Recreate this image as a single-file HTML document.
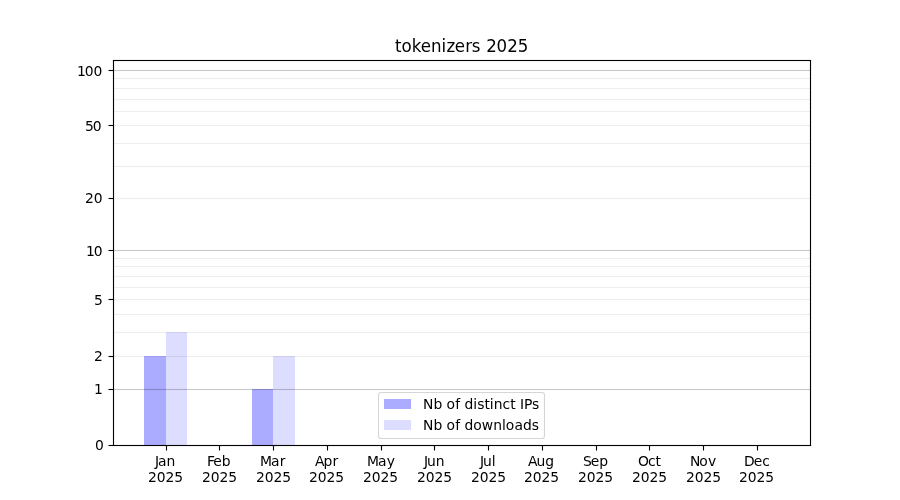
<!DOCTYPE html>
<html lang="en">
<head>
<meta charset="utf-8">
<title>tokenizers 2025</title>
<style>
html,body{margin:0;padding:0;background:#fff;}
body{width:900px;height:500px;overflow:hidden;}
svg{display:block;}
text{font-family:"DejaVu Sans","Liberation Sans",sans-serif;fill:#000;}
.t{font-size:13.889px;}
.ti{font-size:16.667px;}
</style>
</head>
<body>
<svg width="900" height="500" viewBox="0 0 900 500">
<rect x="0" y="0" width="900" height="500" fill="#fff"/>
<g id="bars">
<rect x="144" y="356" width="22" height="89" fill="#0000ff" fill-opacity="0.33"/>
<rect x="166" y="332" width="21" height="113" fill="#0000ff" fill-opacity="0.133"/>
<rect x="252" y="389" width="21" height="56" fill="#0000ff" fill-opacity="0.33"/>
<rect x="273" y="356" width="22" height="89" fill="#0000ff" fill-opacity="0.133"/>
</g>
<g id="grid">
<rect x="114" y="77" width="696" height="3" fill="#000" fill-opacity="0.005"/>
<rect x="114" y="78" width="696" height="1" fill="#000" fill-opacity="0.062"/>
<rect x="114" y="87" width="696" height="3" fill="#000" fill-opacity="0.005"/>
<rect x="114" y="88" width="696" height="1" fill="#000" fill-opacity="0.062"/>
<rect x="114" y="98" width="696" height="3" fill="#000" fill-opacity="0.005"/>
<rect x="114" y="99" width="696" height="1" fill="#000" fill-opacity="0.062"/>
<rect x="114" y="110" width="696" height="3" fill="#000" fill-opacity="0.005"/>
<rect x="114" y="111" width="696" height="1" fill="#000" fill-opacity="0.062"/>
<rect x="114" y="124" width="696" height="3" fill="#000" fill-opacity="0.005"/>
<rect x="114" y="125" width="696" height="1" fill="#000" fill-opacity="0.062"/>
<rect x="114" y="142" width="696" height="3" fill="#000" fill-opacity="0.005"/>
<rect x="114" y="143" width="696" height="1" fill="#000" fill-opacity="0.062"/>
<rect x="114" y="165" width="696" height="3" fill="#000" fill-opacity="0.005"/>
<rect x="114" y="166" width="696" height="1" fill="#000" fill-opacity="0.062"/>
<rect x="114" y="197" width="696" height="3" fill="#000" fill-opacity="0.005"/>
<rect x="114" y="198" width="696" height="1" fill="#000" fill-opacity="0.062"/>
<rect x="114" y="257" width="696" height="3" fill="#000" fill-opacity="0.005"/>
<rect x="114" y="258" width="696" height="1" fill="#000" fill-opacity="0.062"/>
<rect x="114" y="265" width="696" height="3" fill="#000" fill-opacity="0.005"/>
<rect x="114" y="266" width="696" height="1" fill="#000" fill-opacity="0.062"/>
<rect x="114" y="275" width="696" height="3" fill="#000" fill-opacity="0.005"/>
<rect x="114" y="276" width="696" height="1" fill="#000" fill-opacity="0.062"/>
<rect x="114" y="286" width="696" height="3" fill="#000" fill-opacity="0.005"/>
<rect x="114" y="287" width="696" height="1" fill="#000" fill-opacity="0.062"/>
<rect x="114" y="298" width="696" height="3" fill="#000" fill-opacity="0.005"/>
<rect x="114" y="299" width="696" height="1" fill="#000" fill-opacity="0.062"/>
<rect x="114" y="313" width="696" height="3" fill="#000" fill-opacity="0.005"/>
<rect x="114" y="314" width="696" height="1" fill="#000" fill-opacity="0.062"/>
<rect x="114" y="331" width="696" height="3" fill="#000" fill-opacity="0.005"/>
<rect x="114" y="332" width="696" height="1" fill="#000" fill-opacity="0.062"/>
<rect x="114" y="355" width="696" height="3" fill="#000" fill-opacity="0.005"/>
<rect x="114" y="356" width="696" height="1" fill="#000" fill-opacity="0.062"/>
<rect x="114" y="69" width="696" height="3" fill="#000" fill-opacity="0.011"/>
<rect x="114" y="70" width="696" height="1" fill="#000" fill-opacity="0.2"/>
<rect x="114" y="249" width="696" height="3" fill="#000" fill-opacity="0.011"/>
<rect x="114" y="250" width="696" height="1" fill="#000" fill-opacity="0.2"/>
<rect x="114" y="388" width="696" height="3" fill="#000" fill-opacity="0.011"/>
<rect x="114" y="389" width="696" height="1" fill="#000" fill-opacity="0.2"/>
</g>
<g id="spines">
<rect x="113" y="59" width="698" height="3" fill="#000" fill-opacity="0.055"/>
<rect x="112" y="60" width="700" height="1" fill="#000" fill-opacity="0.11"/>
<rect x="113" y="60" width="698" height="1" fill="#000"/>
<rect x="113" y="444" width="698" height="3" fill="#000" fill-opacity="0.055"/>
<rect x="112" y="445" width="700" height="1" fill="#000" fill-opacity="0.11"/>
<rect x="113" y="445" width="698" height="1" fill="#000"/>
<rect x="112" y="60" width="3" height="386" fill="#000" fill-opacity="0.055"/>
<rect x="113" y="60" width="1" height="386" fill="#000"/>
<rect x="809" y="60" width="3" height="386" fill="#000" fill-opacity="0.055"/>
<rect x="810" y="60" width="1" height="386" fill="#000"/>
</g>
<g id="ticks">
<rect x="165" y="446" width="3" height="4" fill="#000" fill-opacity="0.055"/>
<rect x="166" y="446" width="1" height="4" fill="#000" fill-opacity="1"/>
<rect x="166" y="450" width="1" height="1" fill="#000" fill-opacity="0.5"/>
<rect x="218" y="446" width="3" height="4" fill="#000" fill-opacity="0.055"/>
<rect x="219" y="446" width="1" height="4" fill="#000" fill-opacity="1"/>
<rect x="219" y="450" width="1" height="1" fill="#000" fill-opacity="0.5"/>
<rect x="272" y="446" width="3" height="4" fill="#000" fill-opacity="0.055"/>
<rect x="273" y="446" width="1" height="4" fill="#000" fill-opacity="1"/>
<rect x="273" y="450" width="1" height="1" fill="#000" fill-opacity="0.5"/>
<rect x="326" y="446" width="3" height="4" fill="#000" fill-opacity="0.055"/>
<rect x="327" y="446" width="1" height="4" fill="#000" fill-opacity="1"/>
<rect x="327" y="450" width="1" height="1" fill="#000" fill-opacity="0.5"/>
<rect x="380" y="446" width="3" height="4" fill="#000" fill-opacity="0.055"/>
<rect x="381" y="446" width="1" height="4" fill="#000" fill-opacity="1"/>
<rect x="381" y="450" width="1" height="1" fill="#000" fill-opacity="0.5"/>
<rect x="433" y="446" width="3" height="4" fill="#000" fill-opacity="0.055"/>
<rect x="434" y="446" width="1" height="4" fill="#000" fill-opacity="1"/>
<rect x="434" y="450" width="1" height="1" fill="#000" fill-opacity="0.5"/>
<rect x="487" y="446" width="3" height="4" fill="#000" fill-opacity="0.055"/>
<rect x="488" y="446" width="1" height="4" fill="#000" fill-opacity="1"/>
<rect x="488" y="450" width="1" height="1" fill="#000" fill-opacity="0.5"/>
<rect x="541" y="446" width="3" height="4" fill="#000" fill-opacity="0.055"/>
<rect x="542" y="446" width="1" height="4" fill="#000" fill-opacity="1"/>
<rect x="542" y="450" width="1" height="1" fill="#000" fill-opacity="0.5"/>
<rect x="595" y="446" width="3" height="4" fill="#000" fill-opacity="0.055"/>
<rect x="596" y="446" width="1" height="4" fill="#000" fill-opacity="1"/>
<rect x="596" y="450" width="1" height="1" fill="#000" fill-opacity="0.5"/>
<rect x="648" y="446" width="3" height="4" fill="#000" fill-opacity="0.055"/>
<rect x="649" y="446" width="1" height="4" fill="#000" fill-opacity="1"/>
<rect x="649" y="450" width="1" height="1" fill="#000" fill-opacity="0.5"/>
<rect x="702" y="446" width="3" height="4" fill="#000" fill-opacity="0.055"/>
<rect x="703" y="446" width="1" height="4" fill="#000" fill-opacity="1"/>
<rect x="703" y="450" width="1" height="1" fill="#000" fill-opacity="0.5"/>
<rect x="756" y="446" width="3" height="4" fill="#000" fill-opacity="0.055"/>
<rect x="757" y="446" width="1" height="4" fill="#000" fill-opacity="1"/>
<rect x="757" y="450" width="1" height="1" fill="#000" fill-opacity="0.5"/>
<rect x="109" y="69" width="4" height="3" fill="#000" fill-opacity="0.055"/>
<rect x="109" y="70" width="4" height="1" fill="#000" fill-opacity="1"/>
<rect x="108" y="70" width="1" height="1" fill="#000" fill-opacity="0.5"/>
<rect x="109" y="124" width="4" height="3" fill="#000" fill-opacity="0.055"/>
<rect x="109" y="125" width="4" height="1" fill="#000" fill-opacity="1"/>
<rect x="108" y="125" width="1" height="1" fill="#000" fill-opacity="0.5"/>
<rect x="109" y="197" width="4" height="3" fill="#000" fill-opacity="0.055"/>
<rect x="109" y="198" width="4" height="1" fill="#000" fill-opacity="1"/>
<rect x="108" y="198" width="1" height="1" fill="#000" fill-opacity="0.5"/>
<rect x="109" y="249" width="4" height="3" fill="#000" fill-opacity="0.055"/>
<rect x="109" y="250" width="4" height="1" fill="#000" fill-opacity="1"/>
<rect x="108" y="250" width="1" height="1" fill="#000" fill-opacity="0.5"/>
<rect x="109" y="298" width="4" height="3" fill="#000" fill-opacity="0.055"/>
<rect x="109" y="299" width="4" height="1" fill="#000" fill-opacity="1"/>
<rect x="108" y="299" width="1" height="1" fill="#000" fill-opacity="0.5"/>
<rect x="109" y="355" width="4" height="3" fill="#000" fill-opacity="0.055"/>
<rect x="109" y="356" width="4" height="1" fill="#000" fill-opacity="1"/>
<rect x="108" y="356" width="1" height="1" fill="#000" fill-opacity="0.5"/>
<rect x="109" y="388" width="4" height="3" fill="#000" fill-opacity="0.055"/>
<rect x="109" y="389" width="4" height="1" fill="#000" fill-opacity="1"/>
<rect x="108" y="389" width="1" height="1" fill="#000" fill-opacity="0.5"/>
<rect x="109" y="444" width="4" height="3" fill="#000" fill-opacity="0.055"/>
<rect x="109" y="445" width="4" height="1" fill="#000" fill-opacity="1"/>
<rect x="108" y="445" width="1" height="1" fill="#000" fill-opacity="0.5"/>
</g>
<g id="ylabels" class="t">
<text x="76.92 84.63 93.41" y="76">100</text>
<text x="84.89 92.66" y="131">50</text>
<text x="84.89 93.66" y="203">20</text>
<text x="85.89 93.66" y="256">10</text>
<text x="93.92" y="305">5</text>
<text x="93.92" y="361">2</text>
<text x="93.92" y="394">1</text>
<text x="94.92" y="450">0</text>
</g>
<g id="xlabels" class="t">
<text x="154.9 157.88 166.4" y="466">Jan</text>
<text x="147.89 156.66 165.38 174.16" y="482">2025</text>
<text x="206.91 213.13 221.66" y="466">Feb</text>
<text x="201.89 210.66 219.38 228.16" y="482">2025</text>
<text x="259.91 270.88 279.63" y="466">Mar</text>
<text x="255.89 264.66 273.38 282.16" y="482">2025</text>
<text x="314.89 323.38 332.39" y="466">Apr</text>
<text x="308.89 317.66 326.38 335.16" y="482">2025</text>
<text x="366.91 377.88 386.63" y="466">May</text>
<text x="362.89 371.66 380.38 389.16" y="482">2025</text>
<text x="423.91 426.88 435.63" y="466">Jun</text>
<text x="416.89 425.66 434.38 443.16" y="482">2025</text>
<text x="479.92 482.9 491.65" y="466">Jul</text>
<text x="470.89 479.66 488.38 497.16" y="482">2025</text>
<text x="527.9 536.39 545.13" y="466">Aug</text>
<text x="523.89 532.66 541.38 550.16" y="482">2025</text>
<text x="582.92 590.67 599.17" y="466">Sep</text>
<text x="577.89 586.66 595.38 604.16" y="482">2025</text>
<text x="637.9 647.91 655.4" y="466">Oct</text>
<text x="631.89 640.66 649.38 658.16" y="482">2025</text>
<text x="689.9 699.13 707.91" y="466">Nov</text>
<text x="685.89 694.66 703.38 712.16" y="482">2025</text>
<text x="743.92 753.64 762.14" y="466">Dec</text>
<text x="738.89 747.66 756.38 765.16" y="482">2025</text>
</g>
<text class="ti" transform="translate(0 51.5) scale(1 1.11)" x="394.9 401.41 411.67 420.66 430.91 441.41 446.4 454.63 465.13 471.88 480.72 486.15 496.41 507.15 517.64" y="0">tokenizers 2025</text>
<g id="legend">
<rect x="378.5" y="392.5" width="166" height="46" rx="2.8" ry="2.8" fill="#fff" fill-opacity="0.8" stroke="#ccc" stroke-opacity="0.8" stroke-width="1.1"/>
<rect x="384" y="399" width="27" height="10" fill="#0000ff" fill-opacity="0.33"/>
<rect x="384" y="420" width="27" height="10" fill="#0000ff" fill-opacity="0.133"/>
<text class="t" x="422.9 433.38 442.27 446.39 455.13 460.07 464.38 473.14 477.13 484.42 489.65 493.66 502.41 510.13 515.52 519.88 523.92 531.9" y="409">Nb of distinct IPs</text>
<text class="t" x="422.9 433.38 442.27 446.39 455.13 460.07 464.38 473.14 481.67 493.17 501.91 505.67 514.41 522.91 531.67" y="430">Nb of downloads</text>
</g>
</svg>
</body>
</html>
